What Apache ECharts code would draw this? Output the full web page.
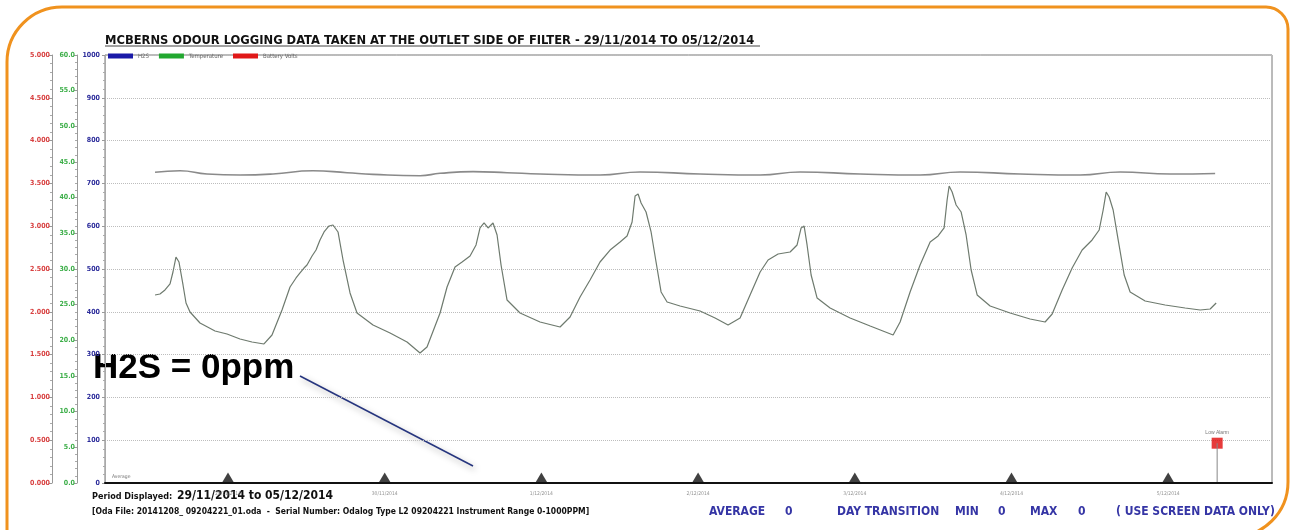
<!DOCTYPE html>
<html>
<head>
<meta charset="utf-8">
<script src="https://cdn.jsdelivr.net/npm/echarts@6/dist/echarts.min.js"></script>
<style>
  html, body { margin: 0; padding: 0; background: #fff; }
  #chart { width: 1292px; height: 530px; }
</style>
</head>
<body>
<div id="chart"></div>
<script>
// hours since 29/11/2014 00:00
const timeHours = [0.82, 1.58, 2.35, 3.12, 3.57, 4.03, 4.49, 5.11, 5.57, 6.18, 7.71, 10.01, 11.85, 13.84, 15.68, 17.51,
  18.74, 20.27, 21.50, 22.42, 23.03, 23.64, 24.10, 24.87, 25.48, 26.09, 26.71, 27.47, 28.08, 28.85, 29.62, 30.69,
  31.76, 34.21, 36.82, 39.42, 41.41, 42.48, 44.48, 45.55, 46.77, 47.85, 49.07, 49.99, 50.60, 51.22, 51.83, 52.59,
  53.21, 53.82, 54.74, 56.73, 59.79, 62.86, 64.39, 65.92, 67.45, 68.98, 70.52, 72.05, 73.12, 73.89, 74.35, 74.81,
  75.27, 76.03, 76.80, 77.56, 78.33, 79.25, 81.24, 84.30, 86.60, 88.59, 90.43, 91.96, 93.50, 94.72, 96.25, 98.09,
  99.16, 99.78, 100.24, 100.69, 101.31, 102.23, 104.22, 107.28, 110.35, 113.87, 114.94, 116.47, 118.00, 119.54,
  120.76, 121.68, 122.14, 122.45, 122.91, 123.52, 124.29, 125.05, 125.82, 126.74, 128.73, 131.79, 134.85, 137.15,
  138.23, 139.76, 141.29, 142.82, 144.35, 145.43, 146.04, 146.50, 146.96, 147.57, 148.34, 149.26, 150.17, 152.47,
  155.53, 158.60, 160.90, 162.43, 163.35];
const temperature = [26.36, 26.5, 27.06, 27.9, 29.58, 31.68, 30.98, 27.76, 25.23, 23.97, 22.43, 21.31, 20.89, 20.19, 19.77, 19.49,
  20.75, 24.25, 27.48, 28.74, 29.44, 30.14, 30.56, 31.82, 32.66, 34.07, 35.19, 36.03, 36.17, 35.19, 31.26, 26.64,
  23.83, 22.15, 21.03, 19.77, 18.22, 19.07, 23.83, 27.48, 30.28, 30.98, 31.82, 33.37, 35.75, 36.45, 35.75, 36.45,
  34.77, 30.56, 25.65, 23.83, 22.57, 21.87, 23.27, 26.08, 28.46, 30.98, 32.66, 33.79, 34.63, 36.59, 40.23, 40.51,
  39.25, 37.99, 35.19, 30.98, 26.78, 25.37, 24.81, 24.11, 23.13, 22.15, 23.13, 26.36, 29.58, 31.26, 32.10, 32.38,
  33.37, 35.75, 36.03, 33.37, 29.16, 25.93, 24.53, 23.13, 22.01, 20.75, 22.57, 26.78, 30.56, 33.79,
  34.63, 35.75, 39.67, 41.64, 40.79, 38.97, 37.99, 34.77, 29.86, 26.36, 24.81, 23.83, 22.99, 22.57,
  23.69, 27.06, 30.14, 32.66, 34.07, 35.47, 38.27, 40.79, 40.09, 38.27, 34.07, 29.16, 26.78, 25.51,
  24.95, 24.53, 24.25, 24.39, 25.23];
const batteryHours = [0.82, 4.65, 8.78, 13.84, 18.89, 25.02, 30.23, 34.21, 41.41, 44.48, 49.53, 54.74, 59.79, 68.98,
  75.11, 84.30, 93.50, 99.62, 108.81, 118.0, 124.13, 133.32, 142.51, 148.64, 156.30, 163.19];
const batteryVolts = [3.630, 3.648, 3.610, 3.598, 3.610, 3.648, 3.625, 3.606, 3.590, 3.618, 3.637, 3.625, 3.610, 3.598,
  3.633, 3.610, 3.598, 3.633, 3.610, 3.598, 3.633, 3.610, 3.598, 3.633, 3.610, 3.616];
const h2sHours = [0.82, 163.35];
const h2sPpm = [0, 0];
const dayTicks = [12, 36, 60, 84, 108, 132, 156];
const dayLabels = ['29/11/2014', '30/11/2014', '1/12/2014', '2/12/2014', '3/12/2014', '4/12/2014', '5/12/2014'];
const alarmHour = 163.5;
const alarmPpm = 93;

const chart = echarts.init(document.getElementById('chart'));
const narrow = '"Liberation Sans Narrow", "DejaVu Sans Condensed", sans-serif';

function zip(xs, ys) {
  return xs.map(function (x, i) { return [x, ys[i]]; });
}

const option = {
  backgroundColor: '#fff',
  animation: false,
  title: {
    text: 'MCBERNS ODOUR LOGGING DATA TAKEN AT THE OUTLET SIDE OF FILTER - 29/11/2014 TO 05/12/2014',
    left: 100,
    top: 29,
    textStyle: { fontSize: 12.8, fontWeight: 'bold', color: '#111', fontFamily: narrow }
  },
  legend: {
    left: 103,
    top: 48,
    itemWidth: 25,
    itemHeight: 5,
    itemGap: 10,
    icon: 'rect',
    textStyle: { fontSize: 6, color: '#666', fontFamily: narrow },
    data: [
      { name: 'H2S', itemStyle: { color: '#1a1aa8' } },
      { name: 'Temperature', itemStyle: { color: '#22a830' } },
      { name: 'Battery Volts', itemStyle: { color: '#e01818' } }
    ]
  },
  grid: {
    left: 105, right: 20, top: 55, bottom: 47,
    show: true, borderColor: '#777', borderWidth: 1
  },
  xAxis: {
    type: 'value',
    min: -6.84,
    max: 171.9,
    z: 5,
    axisLine: { show: true, onZero: false, lineStyle: { color: '#111', width: 2 } },
    axisTick: { show: false },
    axisLabel: { show: false },
    splitLine: { show: false }
  },
  yAxis: [
    {
      type: 'value', min: 0, max: 1000, interval: 100, position: 'left', offset: 0,
      axisLine: { show: true, onZero: false, lineStyle: { color: '#aaa' } },
      axisTick: { show: true, length: 3, lineStyle: { color: '#999' } },
      minorTick: { show: true, splitNumber: 5, length: 2, lineStyle: { color: '#aaa' } },
      axisLabel: { color: '#2a2a9a', fontSize: 7, fontWeight: 'bold', margin: 5, fontFamily: narrow,
        formatter: function (v) { return String(v); } },
      splitLine: { show: true, lineStyle: { color: '#bdbdbd', type: 'dotted', width: 1 } }
    },
    {
      type: 'value', min: 0, max: 60, interval: 5, position: 'left', offset: 28,
      axisLine: { show: true, onZero: false, lineStyle: { color: '#999' } },
      axisTick: { show: true, length: 3, lineStyle: { color: '#999' } },
      minorTick: { show: true, splitNumber: 5, length: 2, lineStyle: { color: '#aaa' } },
      axisLabel: { color: '#3cae48', fontSize: 7, fontWeight: 'bold', margin: 2, fontFamily: narrow,
        formatter: function (v) { return v.toFixed(1); } },
      splitLine: { show: false }
    },
    {
      type: 'value', min: 0, max: 5, interval: 0.5, position: 'left', offset: 53,
      axisLine: { show: true, onZero: false, lineStyle: { color: '#999' } },
      axisTick: { show: true, length: 3, lineStyle: { color: '#999' } },
      minorTick: { show: true, splitNumber: 5, length: 2, lineStyle: { color: '#aaa' } },
      axisLabel: { color: '#d84040', fontSize: 7, fontWeight: 'bold', margin: 2, fontFamily: narrow,
        formatter: function (v) { return v.toFixed(3); } },
      splitLine: { show: false }
    }
  ],
  series: [
    {
      name: 'H2S', type: 'line', yAxisIndex: 0, showSymbol: false, z: 1,
      lineStyle: { color: '#1a1aa8', width: 1 }, itemStyle: { color: '#1a1aa8' },
      data: zip(h2sHours, h2sPpm)
    },
    {
      name: 'Temperature', type: 'line', yAxisIndex: 1, showSymbol: false,
      lineStyle: { color: '#6e7a6e', width: 1.2 }, itemStyle: { color: '#22a830' },
      data: zip(timeHours, temperature)
    },
    {
      name: 'Battery Volts', type: 'line', yAxisIndex: 2, showSymbol: false, smooth: true,
      lineStyle: { color: '#8a8a8a', width: 1.6 }, itemStyle: { color: '#e01818' },
      data: zip(batteryHours, batteryVolts)
    },
    {
      name: 'days', type: 'scatter', yAxisIndex: 0, symbol: 'triangle', z: 6,
      symbolSize: [13, 11], symbolOffset: [0, -5],
      itemStyle: { color: '#111' },
      label: {
        show: true, position: 'bottom', distance: 8, fontSize: 5, color: '#777', fontFamily: narrow,
        formatter: function (p) { return dayLabels[p.dataIndex]; }
      },
      data: dayTicks.map(function (h) { return [h, 0]; })
    },
    {
      name: 'alarmStem', type: 'line', yAxisIndex: 0, showSymbol: false,
      lineStyle: { color: '#888', width: 1 },
      data: [[alarmHour, 0], [alarmHour, alarmPpm]]
    },
    {
      name: 'alarm', type: 'scatter', yAxisIndex: 0, symbol: 'rect', symbolSize: 11,
      itemStyle: { color: '#e00a0a' },
      label: { show: true, position: 'top', distance: 3, fontSize: 5, color: '#555', formatter: 'Low Alarm' },
      data: [[alarmHour, alarmPpm]]
    }
  ],
  graphic: [
    {
      type: 'rect', silent: true,
      shape: { x: 7, y: 7, width: 1281, height: 530, r: [55, 22, 55, 0] },
      style: { fill: 'none', stroke: '#f0921e', lineWidth: 3 }
    },
    {
      type: 'line', silent: true,
      shape: { x1: 105, y1: 46, x2: 760, y2: 46 },
      style: { stroke: '#444', lineWidth: 1 }
    },
    {
      type: 'text', left: 112, top: 474,
      style: { text: 'Average', fontSize: 5, fill: '#777', fontFamily: narrow }
    },
    {
      type: 'text', left: 93, top: 351,
      style: { text: 'H2S = 0ppm', fontSize: 35, fontWeight: 'bold', fill: '#000', fontFamily: '"Liberation Sans", Arial, sans-serif' }
    },
    {
      type: 'line', silent: true,
      shape: { x1: 300, y1: 376, x2: 473, y2: 466 },
      style: { stroke: '#26357e', lineWidth: 1.5, shadowBlur: 6, shadowColor: 'rgba(0,0,0,0.35)', shadowOffsetX: 2, shadowOffsetY: 3 }
    },
    {
      type: 'text', left: 92, top: 492,
      style: { text: 'Period Displayed:', fontSize: 9, fontWeight: 'bold', fill: '#111', fontFamily: narrow }
    },
    {
      type: 'text', left: 177, top: 490,
      style: { text: '29/11/2014 to 05/12/2014', fontSize: 12, fontWeight: 'bold', fill: '#111', fontFamily: narrow }
    },
    {
      type: 'text', left: 92, top: 507,
      style: {
        text: '[Oda File: 20141208_ 09204221_01.oda  -  Serial Number: Odalog Type L2 09204221 Instrument Range 0-1000PPM]',
        fontSize: 8.5, fontWeight: 'bold', fill: '#111', fontFamily: narrow
      }
    },
    { type: 'text', left: 709, top: 506, style: { text: 'AVERAGE', fontSize: 12, fontWeight: 'bold', fill: '#3535a5', fontFamily: narrow } },
    { type: 'text', left: 785, top: 506, style: { text: '0', fontSize: 12, fontWeight: 'bold', fill: '#3535a5', fontFamily: narrow } },
    { type: 'text', left: 837, top: 506, style: { text: 'DAY TRANSITION', fontSize: 12, fontWeight: 'bold', fill: '#3535a5', fontFamily: narrow } },
    { type: 'text', left: 955, top: 506, style: { text: 'MIN', fontSize: 12, fontWeight: 'bold', fill: '#3535a5', fontFamily: narrow } },
    { type: 'text', left: 998, top: 506, style: { text: '0', fontSize: 12, fontWeight: 'bold', fill: '#3535a5', fontFamily: narrow } },
    { type: 'text', left: 1030, top: 506, style: { text: 'MAX', fontSize: 12, fontWeight: 'bold', fill: '#3535a5', fontFamily: narrow } },
    { type: 'text', left: 1078, top: 506, style: { text: '0', fontSize: 12, fontWeight: 'bold', fill: '#3535a5', fontFamily: narrow } },
    { type: 'text', left: 1116, top: 506, style: { text: '( USE SCREEN DATA ONLY)', fontSize: 12, fontWeight: 'bold', fill: '#3535a5', fontFamily: narrow } }
  ]
};

chart.setOption(option);
window.addEventListener('resize', function () { chart.resize(); });
</script>
</body>
</html>
